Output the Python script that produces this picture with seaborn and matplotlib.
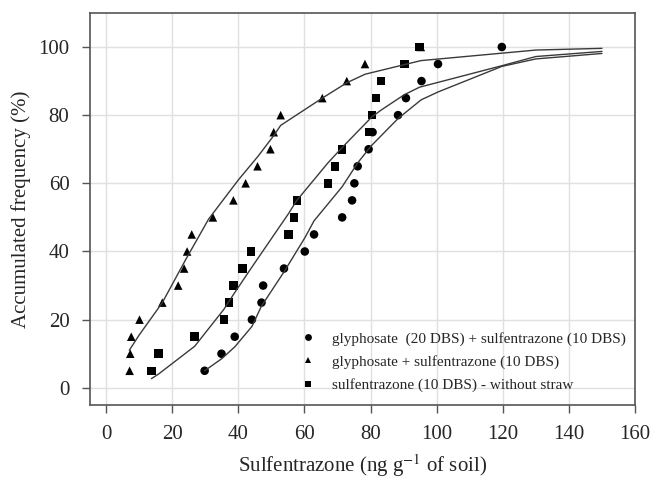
import numpy as np
import pandas as pd
import seaborn as sns
import matplotlib.pyplot as plt

# observed accumulated frequency (%) for each treatment
freq = [5, 10, 15, 20, 25, 30, 35, 40, 45, 50, 55, 60, 65, 70, 75, 80, 85, 90, 95, 100]

# glyphosate (20 DBS) + sulfentrazone (10 DBS) -- circles
circ_x = [29.8, 34.9, 38.9, 44.1, 47.0, 47.5, 53.8, 60.1, 62.9, 71.4,
          74.4, 75.1, 76.1, 79.4, 80.6, 88.3, 90.7, 95.4, 100.4, 119.7]
# glyphosate + sulfentrazone (10 DBS) -- triangles
tri_x = [7.1, 7.3, 7.6, 10.1, 17.0, 21.8, 23.6, 24.5, 25.9, 32.3,
         38.5, 42.2, 45.8, 49.7, 50.7, 52.8, 65.4, 72.8, 78.3, 95.2]
# sulfentrazone (10 DBS) - without straw -- squares
sq_x = [13.7, 15.8, 26.8, 35.6, 37.2, 38.6, 41.2, 43.8, 55.1, 56.9,
        57.7, 67.1, 69.2, 71.4, 79.7, 80.4, 81.6, 83.2, 90.2, 94.8]

# fitted curves
circ_fit_x = [29.8, 34.9, 38.9, 44.1, 47.0, 53.8, 60.1, 62.9, 71.4, 76.1, 80.2, 88.3, 95.3, 100.4, 119.7, 130, 150]
circ_fit_y = [5.0, 8.5, 12.0, 18.0, 24.0, 34.0, 44.0, 49.0, 59.0, 66.0, 71.0, 79.0, 84.5, 86.8, 94.3, 96.5, 98.1]
tri_fit_x = [7.0, 10.0, 17.0, 24.0, 31.0, 40.0, 46.0, 50.7, 52.8, 65.4, 72.8, 78.3, 95.2, 130, 150]
tri_fit_y = [11.0, 15.5, 25.0, 37.5, 49.5, 61.0, 68.0, 74.0, 77.0, 85.0, 89.5, 92.0, 96.0, 99.1, 99.6]
sq_fit_x = [13.7, 15.8, 26.8, 35.6, 38.6, 43.8, 55.1, 57.7, 67.1, 71.4, 80.4, 83.2, 90.2, 94.8, 119.7, 130, 150]
sq_fit_y = [2.7, 4.0, 12.2, 23.0, 27.5, 35.0, 51.0, 55.0, 66.0, 70.5, 79.5, 81.5, 86.0, 88.2, 94.5, 97.2, 98.7]

labels = ["glyphosate  (20 DBS) + sulfentrazone (10 DBS)",
          "glyphosate + sulfentrazone (10 DBS)",
          "sulfentrazone (10 DBS) - without straw"]

pts = pd.DataFrame({
    "x": circ_x + tri_x + sq_x,
    "y": freq * 3,
    "group": [labels[0]] * 20 + [labels[1]] * 20 + [labels[2]] * 20,
})
fits = pd.DataFrame({
    "x": circ_fit_x + tri_fit_x + sq_fit_x,
    "y": circ_fit_y + tri_fit_y + sq_fit_y,
    "group": [labels[0]] * len(circ_fit_x) + [labels[1]] * len(tri_fit_x) + [labels[2]] * len(sq_fit_x),
})

sns.set_style("whitegrid")
plt.rcParams["font.family"] = ["Liberation Serif", "DejaVu Serif"]
plt.rcParams["mathtext.fontset"] = "stix"

fig = plt.figure(figsize=(6.54, 4.78), dpi=100)
ax = fig.add_axes([0.137, 0.153, 0.834, 0.820])

sns.lineplot(data=fits, x="x", y="y", units="group", estimator=None, sort=False,
             color="#3a3a3a", linewidth=1.0, ax=ax, legend=False)
sns.scatterplot(data=pts, x="x", y="y", style="group", markers=["o", "^", "s"],
                color="black", s=38, linewidth=0, ax=ax)

ax.set_xlim(-5, 160)
ax.set_ylim(-5, 110)
ax.set_xticks(range(0, 161, 20))
ax.set_yticks(range(0, 101, 20))
ax.grid(True, color="#e0e0e0", linewidth=1.0)
for sp in ax.spines.values():
    sp.set_color("#555555")
    sp.set_linewidth(1.2)
ax.tick_params(axis="both", direction="out", length=6, width=1.0, color="#555555",
               labelsize=15, pad=8.5, bottom=True, left=True)
ax.set_xlabel("Sulfentrazone (ng g$^{-1}$ of soil)", fontsize=15, labelpad=6)
ax.set_ylabel("Accumulated frequency (%)", fontsize=15, labelpad=5)

ax.legend(loc="upper left", bbox_to_anchor=(0.3865, 0.187), frameon=False, fontsize=11,
          markerscale=0.8, handlelength=1.0, handletextpad=1.1, labelspacing=0.62,
          borderpad=0, borderaxespad=0)

fig.savefig("out.png", dpi=100)
